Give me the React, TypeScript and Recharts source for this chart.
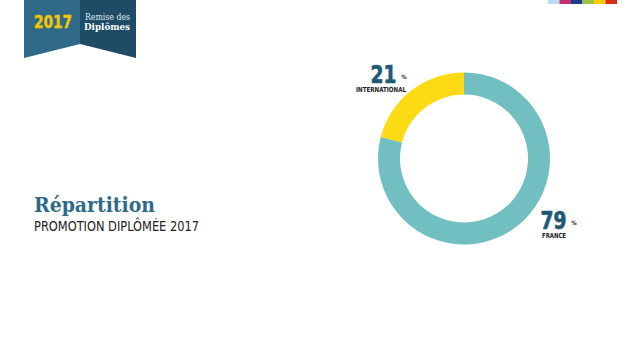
import { Pie, PieChart, Cell } from "recharts";

const categories = ["FRANCE", "INTERNATIONAL"];
const shares = [79, 21];
const sliceColors = ["#72bfc1", "#fddb14"];
const stripColors = ["#b5dcf1", "#c2306f", "#1b3f8e", "#9cc23d", "#fcc800", "#d8301b"];

const data = categories.map((name, i) => ({ name, value: shares[i] }));

// label anchor offsets relative to pie centre
const labelOffsets = [
	{ dx: 89.5, dy: 70.5, nameDx: 0.5, nameW: 24 },
	{ dx: -80.5, dy: -75.5, nameDx: -2.5, nameW: 50 },
];

const numberFont = "'DejaVu Sans Condensed', 'Roboto', sans-serif";

const renderLabel = (props: any) => {
	const { cx, cy, index, name, value } = props;
	const off = labelOffsets[index];
	const x = cx + off.dx;
	const y = cy + off.dy;
	return (
		<g>
			<text
				x={x}
				y={y}
				textAnchor="middle"
				fill="#1f5a74"
				stroke="#1f5a74"
				strokeWidth={0.7}
				fontFamily={numberFont}
				fontWeight="bold"
				fontSize={25}
				textLength={26}
				lengthAdjust="spacingAndGlyphs"
			>
				{value}
			</text>
			<text
				x={x + 20.5}
				y={y - 4}
				textAnchor="middle"
				fill="#222"
				fontFamily={numberFont}
				fontWeight="bold"
				fontSize={6}
			>
				%
			</text>
			<text
				x={x + off.nameDx}
				y={y + 9}
				textAnchor="middle"
				fill="#1a1a1a"
				fontFamily={numberFont}
				fontWeight="bold"
				fontSize={7}
				textLength={off.nameW}
				lengthAdjust="spacingAndGlyphs"
			>
				{name}
			</text>
		</g>
	);
};

const Decor = () => (
	<svg width={640} height={358} style={{ position: "absolute", left: 0, top: 0 }}>
		<polygon points="24,0 80,0 80,44 24,58" fill="#2f6a88" />
		<polygon points="80,0 136,0 136,58 80,44" fill="#1e4b65" />
		<text
			x={34}
			y={28}
			fill="#f6c600"
			stroke="#f6c600"
			strokeWidth={0.4}
			fontFamily={numberFont}
			fontWeight="bold"
			fontSize={17}
			textLength={38}
			lengthAdjust="spacingAndGlyphs"
		>
			2017
		</text>
		<text
			x={85}
			y={20}
			fill="#dfe9ee"
			fontFamily="'DejaVu Serif', serif"
			fontSize={8.5}
			textLength={45}
			lengthAdjust="spacingAndGlyphs"
		>
			Remise des
		</text>
		<text
			x={84}
			y={30}
			fill="#ffffff"
			fontFamily="'DejaVu Serif', serif"
			fontWeight="bold"
			fontSize={10}
			textLength={46}
			lengthAdjust="spacingAndGlyphs"
		>
			Diplômes
		</text>
		{stripColors.map((c, i) => (
			<rect key={c} x={548 + i * 11.5} y={0} width={11.5} height={4} fill={c} />
		))}
		<text
			x={34}
			y={212}
			fill="#2f6a88"
			fontFamily="'DejaVu Serif', serif"
			fontWeight="bold"
			fontSize={20}
			textLength={121}
			lengthAdjust="spacingAndGlyphs"
		>
			Répartition
		</text>
		<text
			x={34}
			y={231}
			fill="#222"
			fontFamily="'DejaVu Sans Condensed', sans-serif"
			fontSize={14}
			textLength={165}
			lengthAdjust="spacingAndGlyphs"
		>
			PROMOTION DIPLÔMÉE 2017
		</text>
	</svg>
);

export default function App() {
	return (
		<div
			style={{
				position: "fixed",
				left: 0,
				top: 0,
				width: 640,
				height: 358,
				background: "#ffffff",
				overflow: "hidden",
			}}
		>
			<div style={{ position: "absolute", left: 0, top: 0 }}>
				<PieChart width={640} height={358} margin={{ top: 0, right: 0, bottom: 0, left: 0 }}>
					<Pie
						data={data}
						dataKey="value"
						nameKey="name"
						cx={464}
						cy={158.5}
						innerRadius={64}
						outerRadius={86}
						startAngle={90}
						endAngle={-270}
						stroke="none"
						label={renderLabel}
						labelLine={false}
						isAnimationActive={false}
					>
						{data.map((d, i) => (
							<Cell key={d.name} fill={sliceColors[i]} />
						))}
					</Pie>
				</PieChart>
			</div>
			<Decor />
		</div>
	);
}
